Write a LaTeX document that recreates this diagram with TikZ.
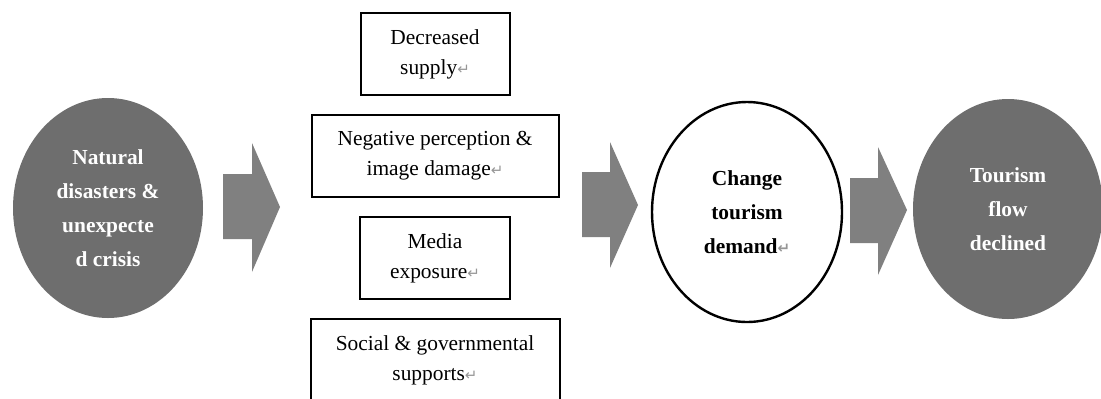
\documentclass[tikz,border=0pt]{standalone}
\usepackage{fontspec}
\setmainfont{Liberation Serif}
\newfontfamily\symfont{DejaVu Sans}
\usetikzlibrary{shapes.geometric,positioning}
\definecolor{ovalgray}{RGB}{110,110,110}
\definecolor{arrowgray}{RGB}{128,128,128}
\definecolor{markgray}{RGB}{150,150,150}
\newcommand\parmark{{\symfont\fontsize{7.5}{7.5}\selectfont\color{markgray}↵}}
\tikzset{
  factor/.style={draw, line width=1pt, align=center, inner sep=0pt,
    font=\fontsize{10.7}{15}\selectfont, minimum height=41pt},
  oval/.style={ellipse, inner sep=0pt, align=center,
    font=\bfseries\fontsize{10.7}{17}\selectfont,
    minimum width=95pt, minimum height=110pt},
  fatarrow/.style={fill=arrowgray}
}
\begin{document}
\begin{tikzpicture}[x=0.5pt,y=-0.5pt,node distance=9pt]
\useasboundingbox (0,0) rectangle (1101,398);
\clip (0,0) rectangle (1101,398);
% ovals
\node[oval, fill=ovalgray, text=white] (cause) at (108,208)
  {Natural\\disasters \&\\unexpecte\\d crisis};
\node[oval, draw, line width=1.2pt] (demand) at (747,212)
  {Change\\tourism\\demand\parmark};
\node[oval, fill=ovalgray, text=white] (flow) at (1008,209)
  {Tourism\\flow\\declined};
% factor boxes
\node[factor, minimum width=74.5pt] (supply) at (435,54)
  {Decreased\\supply\parmark};
\node[factor, minimum width=123.5pt, below=of supply] (image)
  {Negative perception \&\\image damage\parmark};
\node[factor, minimum width=75pt, below=of image] (media)
  {Media\\exposure\parmark};
\node[factor, minimum width=124.5pt, below=of media] (support)
  {Social \& governmental\\supports\parmark};
% block arrows
\fill[fatarrow] (223,174) -- (252,174) -- (252,143) -- (280,207)
  -- (252,272) -- (252,239) -- (223,239) -- cycle;
\fill[fatarrow] (582,172) -- (610,172) -- (610,142) -- (638,205)
  -- (610,268) -- (610,237) -- (582,237) -- cycle;
\fill[fatarrow] (850,178) -- (878,178) -- (878,147) -- (907,210)
  -- (878,275) -- (878,243) -- (850,243) -- cycle;
\end{tikzpicture}
\end{document}
